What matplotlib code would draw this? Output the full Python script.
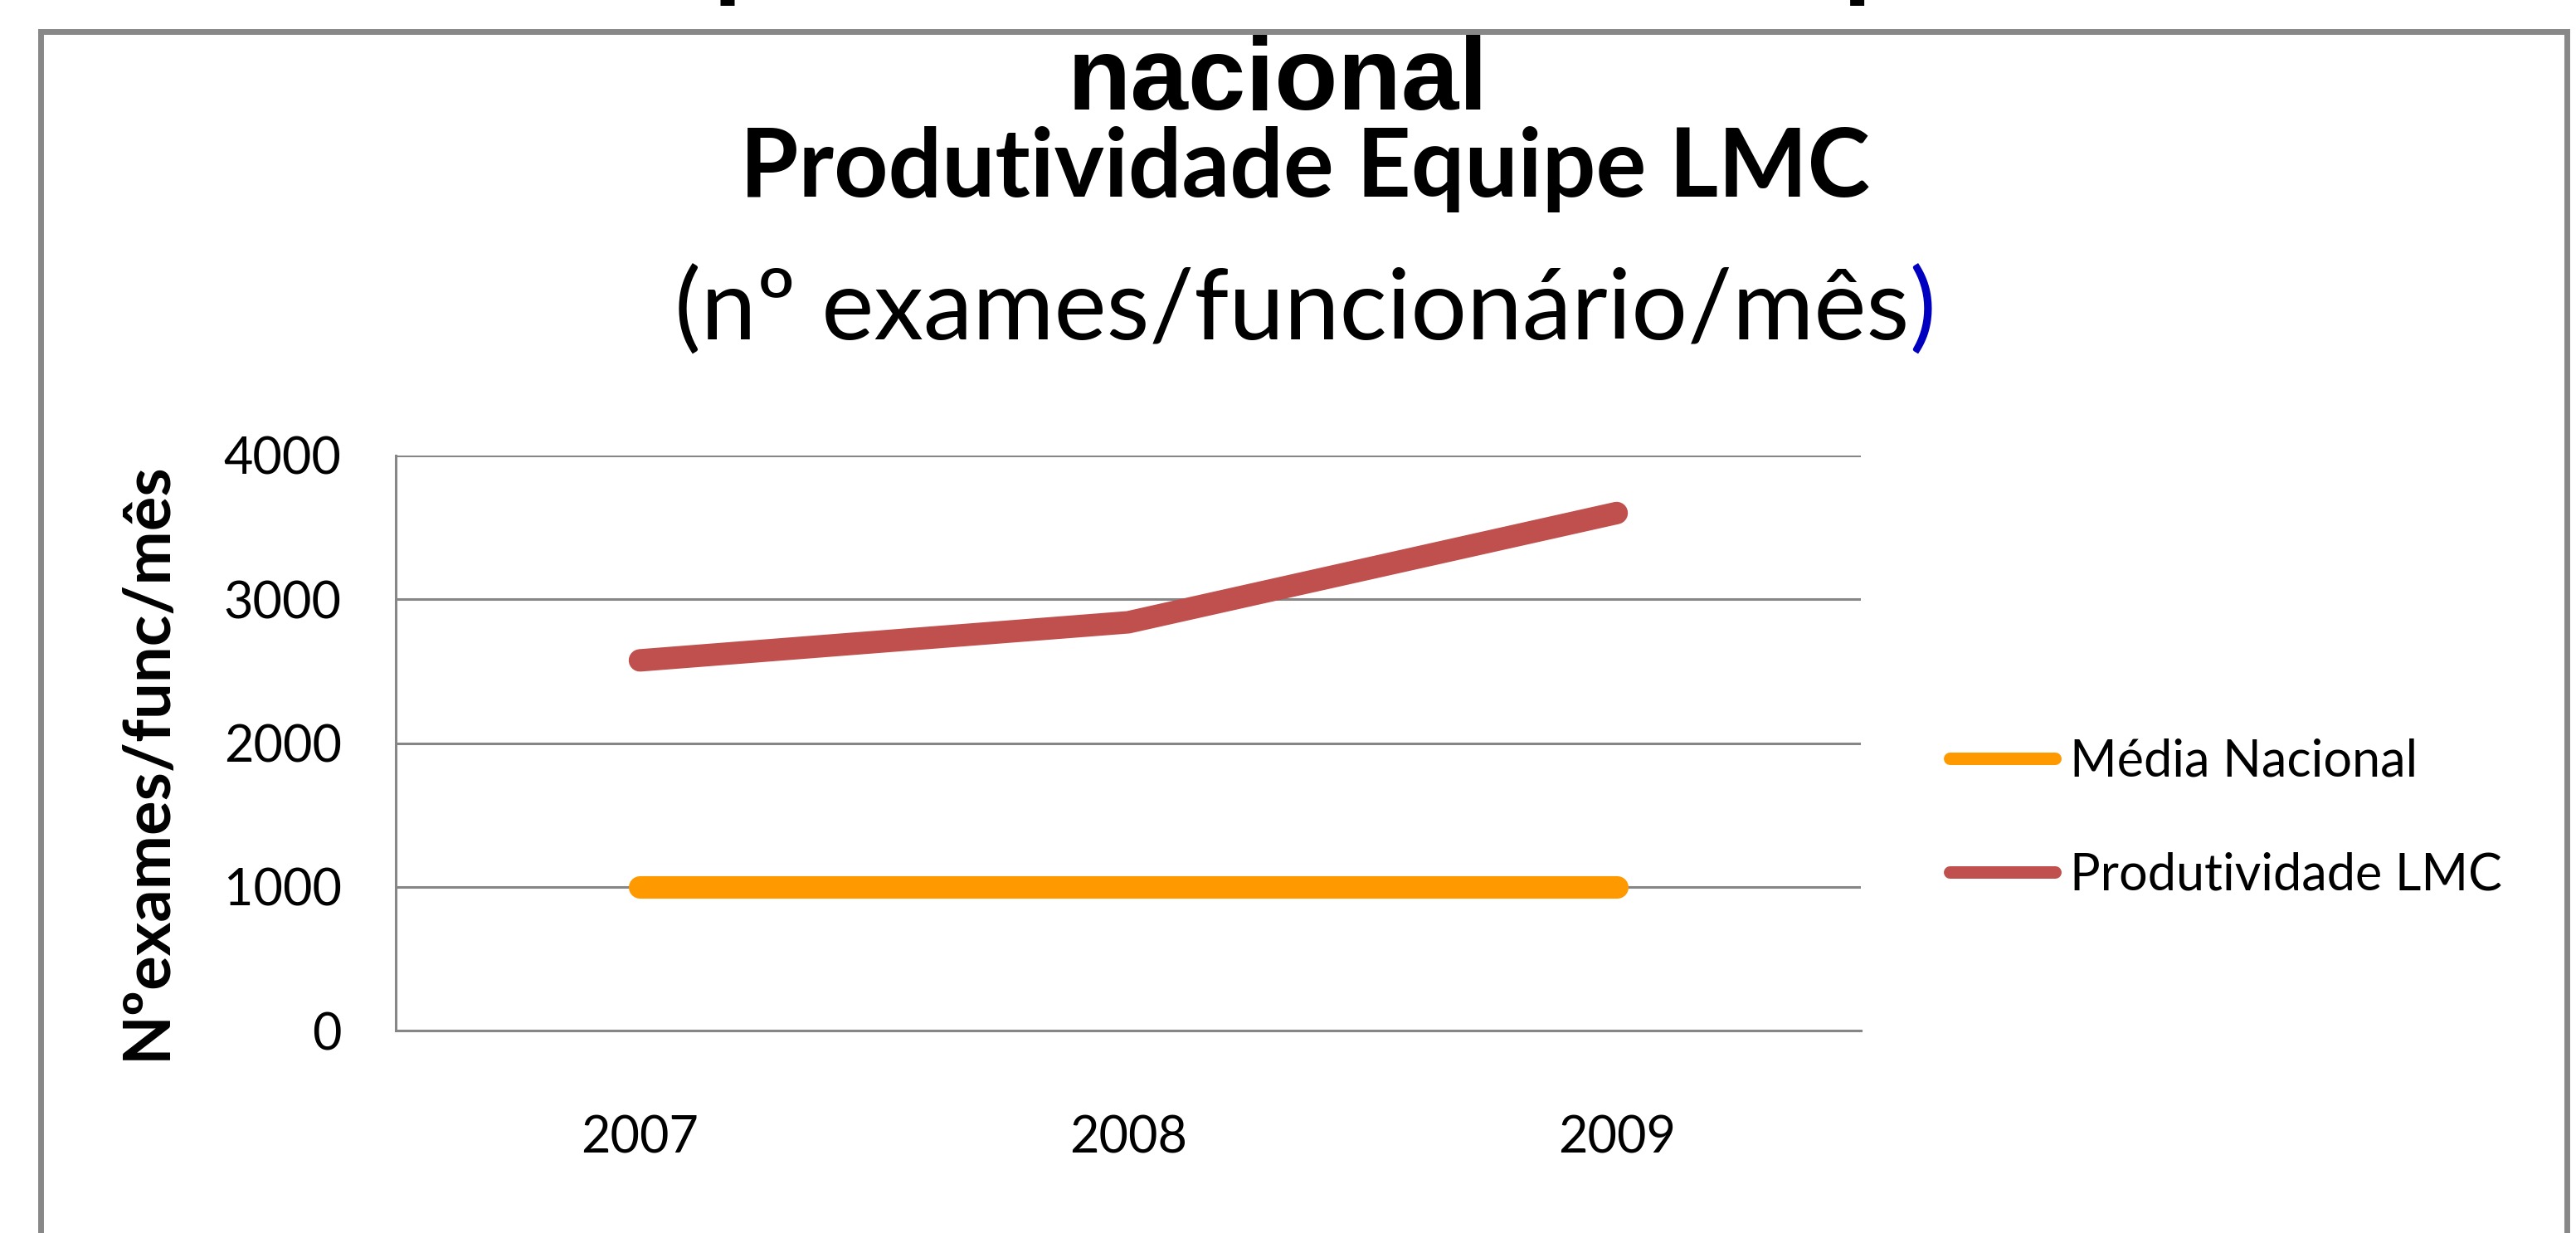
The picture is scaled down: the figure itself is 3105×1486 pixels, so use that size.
import matplotlib
matplotlib.use('Agg')
import matplotlib.pyplot as plt
from matplotlib.lines import Line2D
from matplotlib.patches import Rectangle

# dados
anos = ['2007', '2008', '2009']
media_nacional = [1000, 1000, 1000]
produtividade_lmc = [2575, 2840, 3600]
marcas_y = [0, 1000, 2000, 3000, 4000]
series = ['Média Nacional', 'Produtividade LMC']

cor_media = '#FF9900'
cor_lmc = '#C0504D'
cinza = '#868686'

plt.rcParams['font.family'] = ['Lato', 'DejaVu Sans']

W, H = 3105, 1486
fig = plt.figure(figsize=(W / 100, H / 100), dpi=100)

# moldura cinza do slide
fig.add_artist(Rectangle((49 / W, -0.05), (3094 - 49) / W, 1.05 - 38 / H,
                         transform=fig.transFigure, fill=False,
                         edgecolor='#888888', lw=5))

# título de fora (cortado no topo, só aparecem as pernas dos "p")
fig.text(582 / W, 1 - 7 / H, 'Comparativo entre média e produtividade',
         ha='left', va='bottom', fontsize=90, fontweight='bold',
         family='Liberation Sans')
fig.text(1540 / W, 1 - 132 / H, 'nacional', ha='center', va='baseline',
         fontsize=90, fontweight='bold', family='Liberation Sans')

# título do gráfico
fig.text(1573 / W, 1 - 237 / H, 'Produtividade Equipe LMC', ha='center',
         va='baseline', fontsize=82, fontweight='bold')
renderer = fig.canvas.get_renderer()
t_a = fig.text(0, 0, '(nº exames/funcionário/mês', fontsize=86, va='baseline')
t_b = fig.text(0, 0, ')', fontsize=86, va='baseline', color='#0000C0')
wa = t_a.get_window_extent(renderer).width
wb = t_b.get_window_extent(renderer).width
esq = 1573 - (wa + wb) / 2
t_a.set_position((esq / W, 1 - 410 / H))
t_b.set_position(((esq + wa) / W, 1 - 410 / H))

ax = fig.add_axes([477 / W, 1 - 1242 / H, 1766 / W, 693 / H])
x = range(len(anos))
ax.plot(x, media_nacional, color=cor_media, lw=19.5, solid_capstyle='round')
ax.plot(x, produtividade_lmc, color=cor_lmc, lw=19.5, solid_capstyle='round',
        solid_joinstyle='round')

ax.set_xlim(-0.5, 2.5)
ax.set_ylim(0, 4000)
ax.set_yticks(marcas_y)
ax.set_xticks(list(x), anos)
ax.tick_params(axis='both', length=0, labelsize=44)
ax.tick_params(axis='y', pad=47)
ax.tick_params(axis='x', pad=73)
ax.grid(axis='y', color=cinza, lw=2.2)
ax.set_axisbelow(True)
for s in ['top', 'right']:
    ax.spines[s].set_visible(False)
for s in ['left', 'bottom']:
    ax.spines[s].set_color(cinza)
    ax.spines[s].set_linewidth(2.2)

ax.set_ylabel('Nºexames/func/mês', fontsize=56, fontweight='bold')
ax.yaxis.set_label_coords((214 - 477) / 1766, (1242 - 917) / 693)

alcas = [Line2D([], [], color=cor_media, lw=10.8, solid_capstyle='round'),
         Line2D([], [], color=cor_lmc, lw=10.8, solid_capstyle='round')]
ax.legend(alcas, series, loc='upper left', bbox_to_anchor=(2350 / W, 1 - 889 / H),
          bbox_transform=fig.transFigure, frameon=False, fontsize=44,
          handlelength=2.08, handletextpad=0.3, labelspacing=1.31,
          borderpad=0, borderaxespad=0)

fig.savefig('out.png', dpi=100)
